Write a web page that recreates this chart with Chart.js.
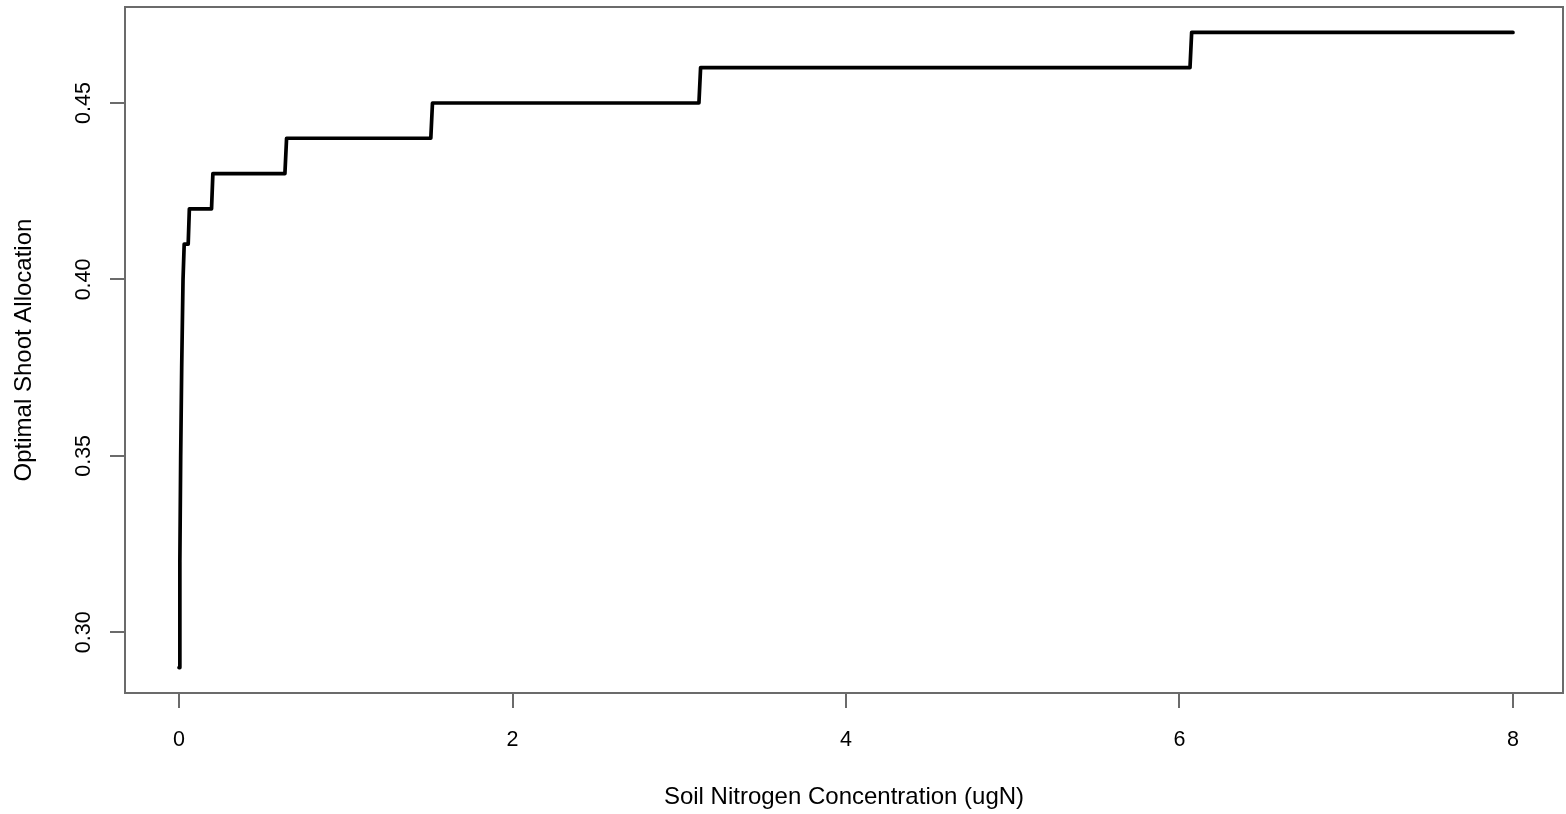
<!DOCTYPE html>
<html><head><meta charset="utf-8">
<script src="https://cdn.jsdelivr.net/npm/chart.js@4.4.1/dist/chart.umd.min.js"></script>
<style>html,body{margin:0;padding:0;background:#fff;} canvas{display:block;}</style>
</head><body>
<canvas id="c" width="1566" height="814"></canvas>
<script>
// ---- data ----
const soilN = [0, 0.005, 0.010, 0.016, 0.024, 0.031, 0.055, 0.062, 0.195, 0.203, 0.635, 0.645, 1.51, 1.52, 3.118, 3.128, 6.063, 6.073, 8];
const shootAlloc = [0.29, 0.32, 0.35, 0.375, 0.40, 0.41, 0.41, 0.42, 0.42, 0.43, 0.43, 0.44, 0.44, 0.45, 0.45, 0.46, 0.46, 0.47, 0.47];
const xTickValues = [0, 2, 4, 6, 8];
const yTickValues = [0.30, 0.35, 0.40, 0.45];
const xTitle = 'Soil Nitrogen Concentration (ugN)';
const yTitle = 'Optimal Shoot Allocation';
const xRange = [-0.324, 8.30];
const yRange = [0.2828, 0.4772];

// ---- styling ----
const axisColor = '#6b6b6b';
const fontFamily = "'Liberation Sans', Arial, Helvetica, sans-serif";

const points = soilN.map((x, i) => ({x: x, y: shootAlloc[i]}));

const boxPlugin = {
  id: 'plotBox',
  afterDraw(chart) {
    const {ctx, chartArea: a} = chart;
    ctx.save();
    ctx.strokeStyle = axisColor;
    ctx.lineWidth = 2;
    ctx.strokeRect(a.left, a.top, a.right - a.left, a.bottom - a.top);
    ctx.restore();
  }
};

new Chart(document.getElementById('c'), {
  type: 'line',
  data: {
    datasets: [{
      data: points,
      borderColor: '#000',
      borderWidth: 3.7,
      borderJoinStyle: 'round',
      borderCapStyle: 'round',
      pointRadius: 0,
      tension: 0,
      fill: false
    }]
  },
  options: {
    responsive: false,
    animation: false,
    devicePixelRatio: 1,
    layout: {padding: {top: 7, right: 3, left: 0, bottom: 0}},
    plugins: {legend: {display: false}, tooltip: {enabled: false}},
    scales: {
      x: {
        type: 'linear',
        min: xRange[0], max: xRange[1],
        afterBuildTicks: s => { s.ticks = xTickValues.map(v => ({value: v})); },
        afterFit: s => { s.height = 121; s.paddingLeft = 0; s.paddingRight = 0; },
        border: {display: false},
        grid: {drawOnChartArea: false, drawTicks: true, tickLength: 15, color: axisColor, lineWidth: 2},
        ticks: {
          color: '#000', padding: 19, maxRotation: 0, autoSkip: false,
          font: {family: fontFamily, size: 21.5},
          callback: v => String(v)
        },
        title: {display: true, text: xTitle, color: '#000', font: {family: fontFamily, size: 24}, padding: {top: 0, bottom: 2}}
      },
      y: {
        type: 'linear',
        min: yRange[0], max: yRange[1],
        afterBuildTicks: s => { s.ticks = yTickValues.map(v => ({value: v})); },
        afterFit: s => { s.width = 125; s.paddingTop = 0; s.paddingBottom = 0; },
        border: {display: false},
        grid: {drawOnChartArea: false, drawTicks: true, tickLength: 15, color: axisColor, lineWidth: 2},
        ticks: {
          color: '#000', padding: 5, minRotation: 90, maxRotation: 90, crossAlign: 'center', autoSkip: false,
          font: {family: fontFamily, size: 21.5},
          callback: v => Number(v).toFixed(2)
        },
        title: {display: true, text: yTitle, color: '#000', font: {family: fontFamily, size: 24}, padding: {top: 10, bottom: 0}}
      }
    }
  },
  plugins: [boxPlugin]
});
</script>
</body></html>
